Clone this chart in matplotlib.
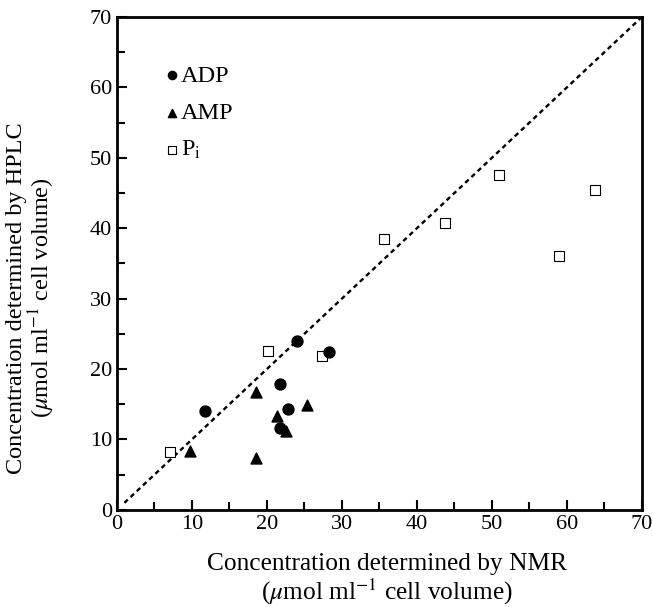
import matplotlib
matplotlib.use("Agg")
import matplotlib.pyplot as plt
from matplotlib.ticker import MultipleLocator

plt.rcParams['font.family'] = ['Liberation Serif', 'DejaVu Serif']
plt.rcParams['mathtext.fontset'] = 'stix'

# valores (NMR, HPLC)
adp_nmr = [11.8, 24.0, 28.3, 21.8, 22.8, 21.8]
adp_hplc = [14.1, 24.0, 22.4, 17.9, 14.3, 11.6]

amp_nmr = [9.7, 18.5, 18.6, 21.3, 22.6, 25.4]
amp_hplc = [8.4, 16.8, 7.3, 13.3, 11.2, 14.9]

pi_nmr = [7.1, 20.1, 27.4, 35.6, 43.8, 50.9, 59.0, 63.7]
pi_hplc = [8.2, 22.6, 21.9, 38.5, 40.8, 47.5, 36.0, 45.5]

line_x = [1, 70]
line_y = [1, 70]

fig = plt.figure(figsize=(6.53, 6.07), dpi=100)
ax = fig.add_axes([0.179, 0.160, 0.804, 0.812])

ax.plot(line_x, line_y, color='black', linestyle=(0, (2, 1.6)), linewidth=1.7, zorder=1)
ax.scatter(adp_nmr, adp_hplc, marker='o', s=62, color='black', label='ADP', zorder=3)
ax.scatter(amp_nmr, amp_hplc, marker='^', s=62, color='black', label='AMP', zorder=3)
ax.scatter(pi_nmr, pi_hplc, marker='s', s=55, facecolor='white', edgecolor='black',
           linewidth=0.8, label='P$_\\mathrm{i}$', zorder=2)

ax.set_xlim(0, 70)
ax.set_ylim(0, 70)
ax.xaxis.set_major_locator(MultipleLocator(10))
ax.xaxis.set_minor_locator(MultipleLocator(5))
ax.yaxis.set_major_locator(MultipleLocator(10))
ax.yaxis.set_minor_locator(MultipleLocator(5))
ax.tick_params(which='both', direction='in', top=False, right=False, labelsize=16, width=1.5)
ax.tick_params(which='major', length=7)
ax.tick_params(which='minor', length=6)
for sp in ax.spines.values():
    sp.set_linewidth(2.0)

ax.set_xlabel('Concentration determined by NMR\n($\\mu$mol ml$^{-1}$ cell volume)', fontsize=18.3,
              linespacing=1.05)
ax.set_ylabel('Concentration determined by HPLC\n($\\mu$mol ml$^{-1}$ cell volume)', fontsize=17.5,
              linespacing=0.95)
ax.xaxis.set_label_coords(0.514, -0.088)
ax.yaxis.set_label_coords(-0.115, 0.43)

leg = ax.legend(loc='upper left', bbox_to_anchor=(0.094, 0.903), frameon=False, fontsize=17.5,
                handlelength=0.5, handletextpad=0.1, labelspacing=0.62, borderaxespad=0,
                borderpad=0, markerscale=0.75)

fig.savefig('out.png', dpi=100)
